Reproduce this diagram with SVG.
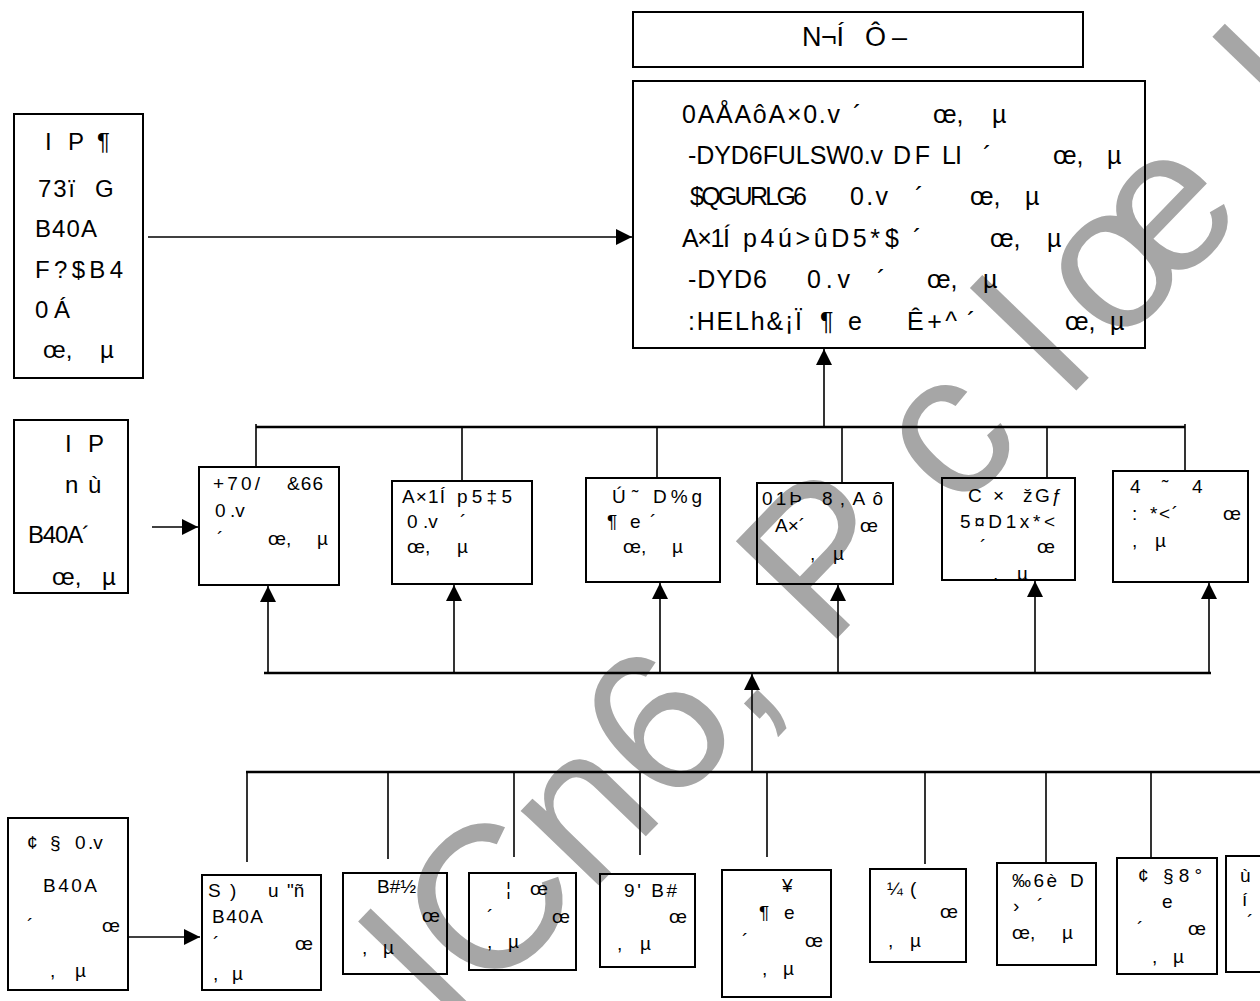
<svg xmlns="http://www.w3.org/2000/svg" width="1260" height="1001" viewBox="0 0 1260 1001">
<style>
text{font-family:"Liberation Sans",Arial,sans-serif;fill:#000}
.f26{font-size:27px}.f24{font-size:25px}.f23{font-size:24px}.f19{font-size:19px}
.box{fill:none;stroke:#000;stroke-width:2}
.ln{fill:none;stroke:#000;stroke-width:1.6}
.bus{fill:none;stroke:#000;stroke-width:2.5}
.arr{fill:none;stroke:#000;stroke-width:1.6;marker-end:url(#ah)}
.wm{font-size:204px;fill:#a6a6a6}
</style>
<defs>
<marker id="ah" viewBox="0 0 16 16" refX="16" refY="8" markerWidth="16" markerHeight="16" markerUnits="userSpaceOnUse" orient="auto"><path d="M0,0 L16,8 L0,16 z" fill="#000"/></marker>
<clipPath id="clipE"><rect x="942" y="478" width="133" height="102"/></clipPath>
</defs>
<rect width="1260" height="1001" fill="#fff"/>
<g id="watermark"><text class="wm" transform="translate(455,1034) rotate(-46)">lCn6, P c l <tspan dx="-32">œ</tspan><tspan dx="30"> l</tspan></text></g>

<g id="connectors">
<line class="arr" x1="148" y1="237" x2="632" y2="237"/>
<line class="bus" x1="256" y1="427" x2="1185" y2="427"/>
<line class="ln" x1="256" y1="424" x2="256" y2="467"/>
<line class="ln" x1="462" y1="427" x2="462" y2="481"/>
<line class="ln" x1="657" y1="427" x2="657" y2="478"/>
<line class="ln" x1="842" y1="427" x2="842" y2="483"/>
<line class="ln" x1="1047" y1="427" x2="1047" y2="478"/>
<line class="ln" x1="1185" y1="424" x2="1185" y2="471"/>
<line class="arr" x1="824" y1="427" x2="824" y2="349"/>
<line class="arr" x1="152" y1="527" x2="198" y2="527"/>
<line class="bus" x1="264" y1="673" x2="1211" y2="673"/>
<line class="arr" x1="268" y1="673" x2="268" y2="586"/>
<line class="arr" x1="454" y1="673" x2="454" y2="585"/>
<line class="arr" x1="660" y1="673" x2="660" y2="583"/>
<line class="arr" x1="838" y1="673" x2="838" y2="585"/>
<line class="arr" x1="1035" y1="673" x2="1035" y2="581"/>
<line class="arr" x1="1209" y1="673" x2="1209" y2="583"/>
<line class="arr" x1="752" y1="772" x2="752" y2="674"/>
<line class="bus" x1="246" y1="772" x2="1260" y2="772"/>
<line class="ln" x1="247" y1="772" x2="247" y2="862"/>
<line class="ln" x1="388" y1="772" x2="388" y2="859"/>
<line class="ln" x1="514" y1="772" x2="514" y2="857"/>
<line class="ln" x1="640" y1="772" x2="640" y2="855"/>
<line class="ln" x1="767" y1="772" x2="767" y2="857"/>
<line class="ln" x1="925" y1="772" x2="925" y2="864"/>
<line class="ln" x1="1046" y1="772" x2="1046" y2="862"/>
<line class="ln" x1="1151" y1="772" x2="1151" y2="858"/>
<line class="arr" x1="128" y1="937" x2="200" y2="937"/>
</g>

<g id="title">
<rect class="box" x="633" y="12" width="450" height="55"/>
<text class="f26" x="802" y="46" textLength="42">N¬Í</text>
<text class="f26" x="865" y="46">Ô</text>
<text class="f26" x="892" y="46">–</text>
</g>

<g id="main">
<rect class="box" x="633" y="81" width="512" height="267"/>
<text class="f24" x="682" y="123" textLength="158">0AÅAôA×0.v</text>
<text class="f24" x="853" y="123">´</text>
<text class="f24" x="933" y="123">œ,</text>
<text class="f24" x="992" y="123">µ</text>
<text class="f24" x="688" y="164" textLength="195">-DYD6FULSW0.v</text>
<text class="f24" x="893" y="164" textLength="37">DF</text>
<text class="f24" x="942" y="164" textLength="20">LI</text>
<text class="f24" x="983" y="164">´</text>
<text class="f24" x="1053" y="164">œ,</text>
<text class="f24" x="1107" y="164">µ</text>
<text class="f24" x="690" y="205" textLength="117">$QGURLG6</text>
<text class="f24" x="850" y="205" textLength="38">0.v</text>
<text class="f24" x="915" y="205">´</text>
<text class="f24" x="970" y="205">œ,</text>
<text class="f24" x="1025" y="205">µ</text>
<text class="f24" x="682" y="247" textLength="48">A×1Í</text>
<text class="f24" x="743" y="247" textLength="137">p4ú&gt;ûD5*</text>
<text class="f24" x="885" y="247">$</text>
<text class="f24" x="913" y="247">´</text>
<text class="f24" x="990" y="247">œ,</text>
<text class="f24" x="1047" y="247">µ</text>
<text class="f24" x="688" y="288" textLength="79">-DYD6</text>
<text class="f24" x="807" y="288" textLength="43">0.v</text>
<text class="f24" x="877" y="288">´</text>
<text class="f24" x="927" y="288">œ,</text>
<text class="f24" x="983" y="288">µ</text>
<text class="f24" x="688" y="330" textLength="114">:HELh&amp;¡Ï</text>
<text class="f24" x="820" y="330">¶</text>
<text class="f24" x="848" y="330">e</text>
<text class="f24" x="907" y="330" textLength="50">Ê+^</text>
<text class="f24" x="967" y="330">´</text>
<text class="f24" x="1065" y="330">œ,</text>
<text class="f24" x="1110" y="330">µ</text>
</g>

<g id="left-top">
<rect class="box" x="14" y="114" width="129" height="264"/>
<text class="f23" x="45" y="150">I</text>
<text class="f23" x="68" y="150">P</text>
<text class="f23" x="97" y="150">¶</text>
<text class="f23" x="38" y="197" textLength="37">73ï</text>
<text class="f23" x="95" y="197">G</text>
<text class="f23" x="35" y="237" textLength="62">B40A</text>
<text class="f23" x="35" y="278" textLength="88">F?$B4</text>
<text class="f23" x="35" y="318" textLength="35">0Á</text>
<text class="f23" x="43" y="358">œ,</text>
<text class="f23" x="100" y="358">µ</text>
</g>

<g id="left-mid">
<rect class="box" x="14" y="420" width="114" height="173"/>
<text class="f23" x="65" y="452">I</text>
<text class="f23" x="88" y="452">P</text>
<text class="f23" x="65" y="493">n</text>
<text class="f23" x="88" y="493">ù</text>
<text class="f23" x="28" y="543" textLength="62">B40A´</text>
<text class="f23" x="52" y="585">œ,</text>
<text class="f23" x="102" y="585">µ</text>
</g>

<g id="box-a">
<rect class="box" x="199" y="467" width="140" height="118"/>
<text class="f19" x="213" y="490" textLength="47">+70/</text>
<text class="f19" x="287" y="490" textLength="36">&amp;66</text>
<text class="f19" x="215" y="517">0</text>
<text class="f19" x="230" y="517">.v</text>
<text class="f19" x="217" y="545">´</text>
<text class="f19" x="268" y="545">œ,</text>
<text class="f19" x="317" y="545">µ</text>
</g>

<g id="box-b">
<rect class="box" x="392" y="481" width="140" height="103"/>
<text class="f19" x="402" y="503" textLength="43">A×1Í</text>
<text class="f19" x="457" y="503" textLength="55">p5‡5</text>
<text class="f19" x="407" y="528">0</text>
<text class="f19" x="423" y="528">.v</text>
<text class="f19" x="460" y="528">´</text>
<text class="f19" x="407" y="553">œ,</text>
<text class="f19" x="457" y="553">µ</text>
</g>

<g id="box-c">
<rect class="box" x="586" y="478" width="134" height="104"/>
<text class="f19" x="612" y="503">Ú</text>
<text class="f19" x="632" y="503">˜</text>
<text class="f19" x="653" y="503" textLength="49">D%g</text>
<text class="f19" x="607" y="528">¶</text>
<text class="f19" x="630" y="528">e</text>
<text class="f19" x="650" y="528">´</text>
<text class="f19" x="623" y="553">œ,</text>
<text class="f19" x="672" y="553">µ</text>
</g>

<g id="box-d">
<rect class="box" x="757" y="483" width="136" height="101"/>
<text class="f19" x="762" y="505" textLength="40">01Þ</text>
<text class="f19" x="822" y="505" textLength="61">8,Aô</text>
<text class="f19" x="775" y="532" textLength="30">A×´</text>
<text class="f19" x="860" y="532">œ</text>
<text class="f19" x="810" y="560">,</text>
<text class="f19" x="833" y="560">µ</text>
</g>

<g id="box-e">
<rect class="box" x="942" y="478" width="133" height="102"/>
<text class="f19" x="968" y="502">C</text>
<text class="f19" x="993" y="502">×</text>
<text class="f19" x="1023" y="502">ž</text>
<text class="f19" x="1035" y="502" textLength="27">Gƒ</text>
<text class="f19" x="960" y="528" textLength="95">5¤D1x*&lt;</text>
<text class="f19" x="980" y="553">´</text>
<text class="f19" x="1037" y="553">œ</text>
<g clip-path="url(#clipE)">
<text class="f19" x="993" y="580">,</text>
<text class="f19" x="1017" y="580">µ</text>
</g>
</g>

<g id="box-f">
<rect class="box" x="1113" y="471" width="135" height="111"/>
<text class="f19" x="1130" y="493">4</text>
<text class="f19" x="1162" y="493">˜</text>
<text class="f19" x="1192" y="493">4</text>
<text class="f19" x="1132" y="520">:</text>
<text class="f19" x="1150" y="520" textLength="28">*&lt;´</text>
<text class="f19" x="1223" y="520">œ</text>
<text class="f19" x="1132" y="547">,</text>
<text class="f19" x="1155" y="547">µ</text>
</g>

<g id="left-bottom">
<rect class="box" x="8" y="818" width="120" height="172"/>
<text class="f19" x="27" y="849">¢</text>
<text class="f19" x="50" y="849">§</text>
<text class="f19" x="75" y="849">0</text>
<text class="f19" x="88" y="849">.v</text>
<text class="f19" x="43" y="892" textLength="54">B40A</text>
<text class="f19" x="27" y="932">´</text>
<text class="f19" x="102" y="932">œ</text>
<text class="f19" x="50" y="977">,</text>
<text class="f19" x="75" y="977">µ</text>
</g>

<g id="box-s">
<rect class="box" x="202" y="875" width="119" height="115"/>
<text class="f19" x="208" y="897">S</text>
<text class="f19" x="230" y="897">)</text>
<text class="f19" x="268" y="897">u</text>
<text class="f19" x="287" y="897">"ñ</text>
<text class="f19" x="212" y="923" textLength="51">B40A</text>
<text class="f19" x="213" y="950">´</text>
<text class="f19" x="295" y="950">œ</text>
<text class="f19" x="213" y="980">,</text>
<text class="f19" x="232" y="980">µ</text>
</g>

<g id="box-b2">
<rect class="box" x="343" y="873" width="104" height="101"/>
<text class="f19" x="377" y="893">B#½</text>
<text class="f19" x="422" y="922">œ</text>
<text class="f19" x="362" y="954">,</text>
<text class="f19" x="383" y="954">µ</text>
</g>

<g id="box-bar">
<rect class="box" x="469" y="873" width="107" height="97"/>
<text class="f19" x="506" y="895">¦</text>
<text class="f19" x="530" y="895">œ</text>
<text class="f19" x="487" y="923">´</text>
<text class="f19" x="552" y="923">œ</text>
<text class="f19" x="487" y="948">,</text>
<text class="f19" x="508" y="948">µ</text>
</g>

<g id="box-9">
<rect class="box" x="600" y="874" width="95" height="93"/>
<text class="f19" x="624" y="897" textLength="53">9' B#</text>
<text class="f19" x="669" y="923">œ</text>
<text class="f19" x="617" y="950">,</text>
<text class="f19" x="640" y="950">µ</text>
</g>

<g id="box-yen">
<rect class="box" x="722" y="870" width="109" height="127"/>
<text class="f19" x="782" y="892">¥</text>
<text class="f19" x="759" y="919">¶</text>
<text class="f19" x="784" y="919">e</text>
<text class="f19" x="742" y="947">´</text>
<text class="f19" x="805" y="947">œ</text>
<text class="f19" x="762" y="975">,</text>
<text class="f19" x="783" y="975">µ</text>
</g>

<g id="box-q">
<rect class="box" x="870" y="869" width="96" height="93"/>
<text class="f19" x="887" y="895">¼</text>
<text class="f19" x="910" y="895">(</text>
<text class="f19" x="940" y="918">œ</text>
<text class="f19" x="888" y="947">,</text>
<text class="f19" x="910" y="947">µ</text>
</g>

<g id="box-pm">
<rect class="box" x="997" y="863" width="99" height="102"/>
<text class="f19" x="1012" y="887" textLength="45">‰6è</text>
<text class="f19" x="1070" y="887">D</text>
<text class="f19" x="1013" y="912">›</text>
<text class="f19" x="1037" y="912">´</text>
<text class="f19" x="1012" y="939">œ,</text>
<text class="f19" x="1062" y="939">µ</text>
</g>

<g id="box-c8">
<rect class="box" x="1117" y="858" width="100" height="116"/>
<text class="f19" x="1138" y="882">¢</text>
<text class="f19" x="1163" y="882" textLength="39">§8°</text>
<text class="f19" x="1162" y="908">e</text>
<text class="f19" x="1137" y="935">´</text>
<text class="f19" x="1188" y="935">œ</text>
<text class="f19" x="1152" y="963">,</text>
<text class="f19" x="1173" y="963">µ</text>
</g>

<g id="box-u">
<rect class="box" x="1226" y="856" width="50" height="116"/>
<text class="f19" x="1240" y="882">ù</text>
<text class="f19" x="1242" y="906">í</text>
<text class="f19" x="1247" y="928">´</text>
</g>
</svg>
